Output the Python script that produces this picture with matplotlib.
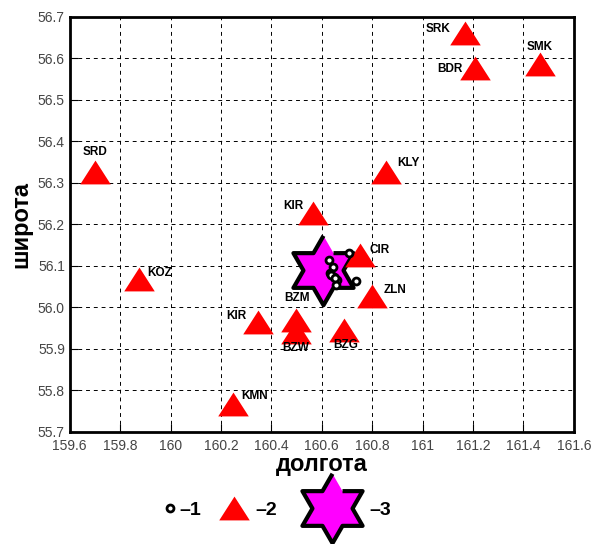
import numpy as np
import matplotlib as mpl
mpl.use('Agg')
import matplotlib.pyplot as plt

plt.rcParams['font.family'] = ['Liberation Sans', 'DejaVu Sans']

# stations (lon, lat)
st_names = ["SRK", "SMK", "BDR", "SRD", "KLY", "KIR", "CIR", "KOZ",
            "ZLN", "KIR", "BZM", "BZW", "BZG", "KMN"]
st_lon = [161.17, 161.465, 161.207, 159.70, 160.854, 160.564, 160.75, 159.874,
          160.80, 160.346, 160.497, 160.497, 160.69, 160.247]
st_lat = [56.66, 56.587, 56.577, 56.327, 56.327, 56.228, 56.126, 56.069,
          56.028, 55.965, 55.97, 55.94, 55.946, 55.767]

# events
ev_lon = [160.707, 160.628, 160.644, 160.632, 160.648, 160.66, 160.735, 160.656,
          160.638, 160.652]
ev_lat = [56.131, 56.114, 56.098, 56.083, 56.073, 56.066, 56.064, 56.054,
          56.078, 56.07]

# main shock
star_lon = [160.604]
star_lat = [56.09]

legend_labels = ["–1", "–2", "–3"]

# label offsets in points (dx, dy) and alignment
label_offsets = {
    0: (-11, 3, 'right'), 1: (0, 12, 'center'), 2: (-9, -1, 'right'),
    3: (0, 14, 'center'), 4: (8, 6, 'left'), 5: (-7, 5, 'right'),
    6: (7, 4, 'left'), 7: (6, 4, 'left'), 8: (8, 4, 'left'),
    9: (-8, 4, 'right'), 10: (1, 16, 'center'), 11: (0, -11, 'center'),
    12: (1, -11, 'center'), 13: (6, 6, 'left'),
}

tri = [(-1, -0.78), (1, -0.78), (0, 0.78)]
ang = np.arange(12) * np.pi / 6 + np.pi / 2
rad = np.where(np.arange(12) % 2 == 0, 1.0, 0.577)
star = list(zip(rad * np.cos(ang), rad * np.sin(ang)))

fig = plt.figure(figsize=(5.91, 5.44), dpi=100)
ax = fig.add_axes([0.118, 0.206, 0.853, 0.763])

h_star, = ax.plot(star_lon, star_lat, linestyle='none', marker=star, markersize=50,
                  markerfacecolor='#ff00ff', markeredgecolor='black',
                  markeredgewidth=3, zorder=3)
h_tri, = ax.plot(st_lon, st_lat, linestyle='none', marker=tri, markersize=22,
                 color='red', markeredgewidth=0, zorder=4)
h_ev, = ax.plot(ev_lon, ev_lat, linestyle='none', marker='o', markersize=5,
                markerfacecolor='white', markeredgecolor='black',
                markeredgewidth=2, zorder=5)

for i, name in enumerate(st_names):
    dx, dy, ha = label_offsets[i]
    ax.annotate(name, (st_lon[i], st_lat[i]), xytext=(dx, dy),
                textcoords='offset points', ha=ha, va='center',
                fontsize=8.5, fontweight='bold', zorder=6)

ax.set_xlim(159.6, 161.6)
ax.set_ylim(55.7, 56.7)
ax.set_xticks(np.arange(159.6, 161.61, 0.2))
ax.set_xticklabels(["159.6", "159.8", "160", "160.2", "160.4", "160.6",
                    "160.8", "161", "161.2", "161.4", "161.6"])
ax.set_yticks(np.arange(55.7, 56.71, 0.1))
ax.set_yticklabels(["%.1f" % v for v in np.arange(55.7, 56.71, 0.1)])
ax.tick_params(direction='in', length=6, labelsize=10, labelcolor='#444444',
               top=False, right=False)
ax.tick_params(axis='x', pad=5)
ax.grid(True, color='black', linestyle=(0, (4, 4)), linewidth=0.7)
for s in ax.spines.values():
    s.set_linewidth(2)

ax.set_xlabel("долгота", fontsize=17, fontweight='heavy', labelpad=0)
ax.set_ylabel("широта", fontsize=17, fontweight='heavy', labelpad=4)

# legend, one entry each so the keys can have their own widths
leg_items = [(h_ev, 0.6, 0.278), (h_tri, 1.8, 0.366), (h_star, 3.4, 0.506)]
for (h, hl, xpos), lab in zip(leg_items, legend_labels):
    fig.legend([h], [lab], loc='center left', bbox_to_anchor=(xpos, 0.062),
               frameon=False, handlelength=hl, handletextpad=0.2,
               borderpad=0, borderaxespad=0,
               prop={'weight': 'bold', 'size': 14})

plt.savefig("out.png", dpi=100)
plt.close(fig)
